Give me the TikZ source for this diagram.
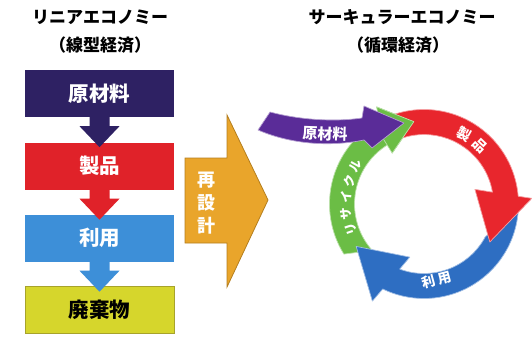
\documentclass[tikz,border=0pt]{standalone}
\usepackage{fontspec}
\newfontfamily\jp{Noto Sans CJK JP}
\usetikzlibrary{calc}
\definecolor{navy}{HTML}{2E2163}
\definecolor{redbox}{HTML}{E02229}
\definecolor{bluebox}{HTML}{3D8FD8}
\definecolor{yellowb}{HTML}{D6D62C}
\definecolor{yellowd}{HTML}{A7A32B}
\definecolor{orangeb}{HTML}{E9A52B}
\definecolor{oranged}{HTML}{B47E1E}
\definecolor{purp}{HTML}{5A2C98}
\definecolor{cred}{HTML}{E8262D}
\definecolor{cblue}{HTML}{2E6EC2}
\definecolor{cgreen}{HTML}{6BBD45}
\newcommand\myvarrow[2]{\fill[#2] ($(#1.south)+(-10,1)$) -- ++(0,-10) -- ++(-10,0) -- ++(20,-21) -- ++(20,21) -- ++(-10,0) -- ++(0,10) -- cycle;}
\begin{document}
\begin{tikzpicture}[x=1pt,y=1pt,
  box/.style={minimum width=149pt, minimum height=47pt, inner sep=0pt, font=\jp\bfseries\fontsize{20.5}{20.5}\selectfont, text=white},
  ttl/.style={font=\jp\bfseries\fontsize{17}{17}\selectfont, inner sep=0pt},
  clab/.style={font=\jp\bfseries\fontsize{14}{14}\selectfont, text=white, inner sep=0pt},
  glab/.style={font=\jp\bfseries\fontsize{12.5}{12.5}\selectfont, text=white, inner sep=0pt},
  halo/.style={draw=white!55!#1, line width=0.7pt, line join=round},
]
\useasboundingbox (0,0) rectangle (532,338);
% titles
\node[ttl] (t1) at (100,321) {リニアエコノミー};
\node[ttl] (t2) at (100,293) {（線型経済）};
\node[ttl] (t3) at (402,321) {サーキュラーエコノミー};
\node[ttl] (t4) at (398,293) {（循環経済）};
% linear boxes
\node[box, fill=navy] (b1) at (99.5,244.5) {原材料};
\node[box, fill=redbox] (b2) at (99.5,172) {製品};
\node[box, fill=bluebox] (b3) at (99.5,100) {利用};
\node[box, fill=yellowb, draw=yellowd, line width=1pt, text=black] (b4) at (99.5,28) {廃棄物};
\myvarrow{b1}{navy}
\myvarrow{b2}{redbox}
\myvarrow{b3}{bluebox}
% redesign arrow
\fill[orangeb, draw=oranged, line width=0.8pt] (185,180) -- (227,180) -- (227,223) -- (268,138) -- (227,51) -- (227,95) -- (185,95) -- cycle;
\node[font=\jp\bfseries\fontsize{18}{23}\selectfont, text=white, align=center] (rd) at (206,135) {再\\設\\計};
% circle
\coordinate (C) at (424,134);
% green
\fill[cgreen, halo=cgreen] ($(C)+(212:94.5)$) arc[start angle=212, end angle=117, radius=94.5pt]
  -- ($(C)+(116:108)$) -- ($(C)+(97:83)$) -- ($(C)+(122:60)$)
  -- ($(C)+(120.1:69.5)$) arc[start angle=120.1, end angle=222, radius=69.5pt] -- cycle;
% blue
\fill[cblue, halo=cblue] ($(C)+(-5:94.5)$) arc[start angle=-5, end angle=-115.9, radius=94.5pt]
  -- ($(C)+(-118:110)$) -- ($(C)+(-148:80)$) -- ($(C)+(-105:55)$)
  -- ($(C)+(-110.5:69.5)$) arc[start angle=-110.5, end angle=-28, radius=69.5pt] -- cycle;
% red
\fill[cred, halo=cred] ($(C)+(108:94.5)$) arc[start angle=108, end angle=4.7, radius=94.5pt]
  -- ($(C)+(3:108)$) -- ($(C)+(-30:76)$) -- ($(C)+(16:53)$)
  -- ($(C)+(9.8:69.5)$) arc[start angle=9.8, end angle=108.5, radius=69.5pt] -- cycle;
% green head again
\fill[cgreen, halo=cgreen] ($(C)+(116:108)$) -- ($(C)+(97:83)$) -- ($(C)+(122:60)$) -- ($(C)+(122:80)$) -- cycle;
% purple
\fill[purp, halo=purp] (270,226) .. controls (300,218) and (335,216) .. (362,220) -- (364,232) -- (404,215) -- (372,190) -- (364,198) .. controls (335,192) and (295,192) .. (258,208) -- cycle;
\node[clab, font=\jp\bfseries\fontsize{15}{15}\selectfont, rotate=-2] (l0) at (325,204) {原材料};
% circle labels
\node[clab, rotate=-29] (r1) at ($(C)+(60:81)$) {製};
\node[clab, rotate=-43.5] (r2) at ($(C)+(46.5:81)$) {品};
\node[clab, font=\jp\bfseries\fontsize{13.5}{13.5}\selectfont, rotate=15] (u1) at (428.8,55.8) {利};
\node[clab, font=\jp\bfseries\fontsize{13.5}{13.5}\selectfont, rotate=15] (u2) at (445.2,60.2) {用};
\node[glab, rotate=109] (g1) at ($(C)+(199:77)$) {リ};
\node[glab, rotate=97] (g2) at ($(C)+(187:78)$) {サ};
\node[glab, rotate=85] (g3) at ($(C)+(175:78)$) {イ};
\node[glab, rotate=73] (g4) at ($(C)+(163:78)$) {ク};
\node[glab, rotate=61] (g5) at ($(C)+(151:78)$) {ル};
\end{tikzpicture}
\end{document}
